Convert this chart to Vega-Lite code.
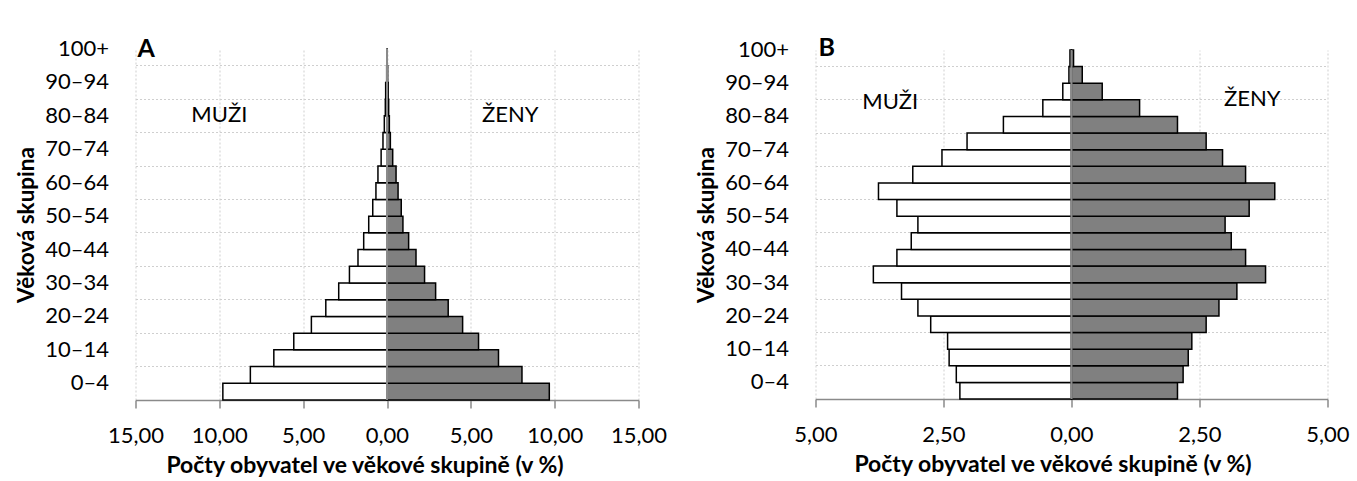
{
  "$schema": "https://vega.github.io/schema/vega-lite/v6.json",
  "padding": {"left": 15.5, "top": 36, "right": 2, "bottom": 2},
  "config": {
    "font": "Lato",
    "view": {"stroke": null},
    "axis": {"labelColor": "#000000", "titleColor": "#000000", "labelFont": "Lato", "titleFont": "Lato", "labelOverlap": false, "labelBound": false, "labelFlush": false}
  },
  "datasets": {
    "A": [
      {"age": "0–4", "sex": "muži", "value": -9.79}, {"age": "0–4", "sex": "ženy", "value": 9.68},
      {"age": "5–9", "sex": "muži", "value": -8.15}, {"age": "5–9", "sex": "ženy", "value": 8.05},
      {"age": "10–14", "sex": "muži", "value": -6.75}, {"age": "10–14", "sex": "ženy", "value": 6.65},
      {"age": "15–19", "sex": "muži", "value": -5.56}, {"age": "15–19", "sex": "ženy", "value": 5.46},
      {"age": "20–24", "sex": "muži", "value": -4.51}, {"age": "20–24", "sex": "ženy", "value": 4.51},
      {"age": "25–29", "sex": "muži", "value": -3.65}, {"age": "25–29", "sex": "ženy", "value": 3.65},
      {"age": "30–34", "sex": "muži", "value": -2.88}, {"age": "30–34", "sex": "ženy", "value": 2.9},
      {"age": "35–39", "sex": "muži", "value": -2.24}, {"age": "35–39", "sex": "ženy", "value": 2.24},
      {"age": "40–44", "sex": "muži", "value": -1.73}, {"age": "40–44", "sex": "ženy", "value": 1.73},
      {"age": "45–49", "sex": "muži", "value": -1.39}, {"age": "45–49", "sex": "ženy", "value": 1.29},
      {"age": "50–54", "sex": "muži", "value": -1.09}, {"age": "50–54", "sex": "ženy", "value": 0.95},
      {"age": "55–59", "sex": "muži", "value": -0.85}, {"age": "55–59", "sex": "ženy", "value": 0.85},
      {"age": "60–64", "sex": "muži", "value": -0.66}, {"age": "60–64", "sex": "ženy", "value": 0.66},
      {"age": "65–69", "sex": "muži", "value": -0.54}, {"age": "65–69", "sex": "ženy", "value": 0.54},
      {"age": "70–74", "sex": "muži", "value": -0.35}, {"age": "70–74", "sex": "ženy", "value": 0.34},
      {"age": "75–79", "sex": "muži", "value": -0.24}, {"age": "75–79", "sex": "ženy", "value": 0.2},
      {"age": "80–84", "sex": "muži", "value": -0.16}, {"age": "80–84", "sex": "ženy", "value": 0.14},
      {"age": "85–89", "sex": "muži", "value": -0.1}, {"age": "85–89", "sex": "ženy", "value": 0.1},
      {"age": "90–94", "sex": "muži", "value": -0.08}, {"age": "90–94", "sex": "ženy", "value": 0.07},
      {"age": "95–99", "sex": "muži", "value": -0.02}, {"age": "95–99", "sex": "ženy", "value": 0.04},
      {"age": "100+", "sex": "muži", "value": 0}, {"age": "100+", "sex": "ženy", "value": 0.01}
    ],
    "B": [
      {"age": "0–4", "sex": "muži", "value": -2.18}, {"age": "0–4", "sex": "ženy", "value": 2.07},
      {"age": "5–9", "sex": "muži", "value": -2.25}, {"age": "5–9", "sex": "ženy", "value": 2.18},
      {"age": "10–14", "sex": "muži", "value": -2.39}, {"age": "10–14", "sex": "ženy", "value": 2.28},
      {"age": "15–19", "sex": "muži", "value": -2.42}, {"age": "15–19", "sex": "ženy", "value": 2.35},
      {"age": "20–24", "sex": "muži", "value": -2.75}, {"age": "20–24", "sex": "ženy", "value": 2.63},
      {"age": "25–29", "sex": "muži", "value": -3.0}, {"age": "25–29", "sex": "ženy", "value": 2.88},
      {"age": "30–34", "sex": "muži", "value": -3.32}, {"age": "30–34", "sex": "ženy", "value": 3.23},
      {"age": "35–39", "sex": "muži", "value": -3.87}, {"age": "35–39", "sex": "ženy", "value": 3.79},
      {"age": "40–44", "sex": "muži", "value": -3.41}, {"age": "40–44", "sex": "ženy", "value": 3.4},
      {"age": "45–49", "sex": "muži", "value": -3.13}, {"age": "45–49", "sex": "ženy", "value": 3.12},
      {"age": "50–54", "sex": "muži", "value": -3.0}, {"age": "50–54", "sex": "ženy", "value": 3.0},
      {"age": "55–59", "sex": "muži", "value": -3.41}, {"age": "55–59", "sex": "ženy", "value": 3.47},
      {"age": "60–64", "sex": "muži", "value": -3.77}, {"age": "60–64", "sex": "ženy", "value": 3.97},
      {"age": "65–69", "sex": "muži", "value": -3.1}, {"age": "65–69", "sex": "ženy", "value": 3.4},
      {"age": "70–74", "sex": "muži", "value": -2.53}, {"age": "70–74", "sex": "ženy", "value": 2.95},
      {"age": "75–79", "sex": "muži", "value": -2.04}, {"age": "75–79", "sex": "ženy", "value": 2.63},
      {"age": "80–84", "sex": "muži", "value": -1.33}, {"age": "80–84", "sex": "ženy", "value": 2.07},
      {"age": "85–89", "sex": "muži", "value": -0.56}, {"age": "85–89", "sex": "ženy", "value": 1.33},
      {"age": "90–94", "sex": "muži", "value": -0.17}, {"age": "90–94", "sex": "ženy", "value": 0.6},
      {"age": "95–99", "sex": "muži", "value": -0.05}, {"age": "95–99", "sex": "ženy", "value": 0.21},
      {"age": "100+", "sex": "muži", "value": -0.03}, {"age": "100+", "sex": "ženy", "value": 0.04}
    ]
  },
  "hconcat": [
    {
      "width": 503,
      "height": 351,
      "data": {"name": "A"},
      "layer": [
        {
          "mark": {"type": "bar", "stroke": "#000000", "strokeWidth": 1.5},
          "encoding": {
            "y": {
              "field": "age", "type": "nominal",
              "scale": {"domain": ["100+", "95–99", "90–94", "85–89", "80–84", "75–79", "70–74", "65–69", "60–64", "55–59", "50–54", "45–49", "40–44", "35–39", "30–34", "25–29", "20–24", "15–19", "10–14", "5–9", "0–4"], "paddingInner": 0, "paddingOuter": 0},
              "axis": {
                "values": ["100+", "90–94", "80–84", "70–74", "60–64", "50–54", "40–44", "30–34", "20–24", "10–14", "0–4"],
                "bandPosition": 1, "labelOffset": -8.36,
                "grid": true, "gridDash": [2, 2], "gridColor": "#cfcfcf", "gridWidth": 1,
                "ticks": false, "domain": false, "labelPadding": 27, "labelFontSize": 22,
                "labelOverlap": false, "labelBound": false,
                "title": "Věková skupina", "titleFontSize": 22.5, "titleFontWeight": "bold", "titlePadding": 6
              }
            },
            "x": {
              "field": "value", "type": "quantitative",
              "scale": {"domain": [-15, 15], "nice": false, "zero": false},
              "axis": {
                "values": [-15, -10, -5, 0, 5, 10, 15],
                "labelExpr": "replace(format(abs(datum.value), '.2f'), '.', ',')",
                "grid": true, "gridDash": [2, 2], "gridColor": "#cfcfcf", "gridWidth": 1,
                "domainColor": "#8a8a8a", "domainWidth": 1.5, "tickColor": "#8a8a8a", "tickWidth": 1.5, "tickSize": 8,
                "labelPadding": 17, "labelFontSize": 22,
                "title": "Počty obyvatel ve věkové skupině (v %)", "titleFontSize": 23, "titleFontWeight": "bold",
                "titleX": 229, "titlePadding": 8
              }
            },
            "fill": {"field": "sex", "type": "nominal", "scale": {"domain": ["muži", "ženy"], "range": ["#ffffff", "#808080"]}, "legend": null}
          }
        },
        {
          "data": {"values": [{}]},
          "mark": {"type": "rule", "color": "#8a8a8a", "strokeWidth": 2},
          "encoding": {"x": {"datum": 0}}
        },
        {
          "data": {"values": [{}]},
          "mark": {"type": "text", "text": "A", "fontSize": 25, "fontWeight": "bold", "align": "left", "baseline": "alphabetic", "dx": 2, "color": "#000000"},
          "encoding": {"x": {"datum": -15}, "y": {"datum": "100+"}}
        },
        {
          "data": {"values": [{}]},
          "mark": {"type": "text", "text": "MUŽI", "fontSize": 22, "align": "center", "baseline": "alphabetic", "dy": -2, "color": "#000000"},
          "encoding": {"x": {"datum": -10}, "y": {"datum": "80–84"}}
        },
        {
          "data": {"values": [{}]},
          "mark": {"type": "text", "text": "ŽENY", "fontSize": 22, "align": "center", "baseline": "alphabetic", "dy": -2, "color": "#000000"},
          "encoding": {"x": {"datum": 7.35}, "y": {"datum": "80–84"}}
        }
      ]
    },
    {
      "width": 512,
      "height": 349,
      "data": {"name": "B"},
      "layer": [
        {
          "mark": {"type": "bar", "stroke": "#000000", "strokeWidth": 1.5},
          "encoding": {
            "y": {
              "field": "age", "type": "nominal",
              "scale": {"domain": ["100+", "95–99", "90–94", "85–89", "80–84", "75–79", "70–74", "65–69", "60–64", "55–59", "50–54", "45–49", "40–44", "35–39", "30–34", "25–29", "20–24", "15–19", "10–14", "5–9", "0–4"], "paddingInner": 0, "paddingOuter": 0},
              "axis": {
                "values": ["100+", "90–94", "80–84", "70–74", "60–64", "50–54", "40–44", "30–34", "20–24", "10–14", "0–4"],
                "bandPosition": 1, "labelOffset": -8.3,
                "grid": true, "gridDash": [2, 2], "gridColor": "#cfcfcf", "gridWidth": 1,
                "ticks": false, "domain": false, "labelPadding": 27, "labelFontSize": 22,
                "labelOverlap": false, "labelBound": false,
                "title": "Věková skupina", "titleFontSize": 22.5, "titleFontWeight": "bold", "titlePadding": 6
              }
            },
            "x": {
              "field": "value", "type": "quantitative",
              "scale": {"domain": [-5, 5], "nice": false, "zero": false},
              "axis": {
                "values": [-5, -2.5, 0, 2.5, 5],
                "labelExpr": "replace(format(abs(datum.value), '.2f'), '.', ',')",
                "grid": true, "gridDash": [2, 2], "gridColor": "#cfcfcf", "gridWidth": 1,
                "domainColor": "#8a8a8a", "domainWidth": 1.5, "tickColor": "#8a8a8a", "tickWidth": 1.5, "tickSize": 8,
                "labelPadding": 17, "labelFontSize": 22,
                "title": "Počty obyvatel ve věkové skupině (v %)", "titleFontSize": 23, "titleFontWeight": "bold",
                "titleX": 237, "titlePadding": 8
              }
            },
            "fill": {"field": "sex", "type": "nominal", "scale": {"domain": ["muži", "ženy"], "range": ["#ffffff", "#808080"]}, "legend": null}
          }
        },
        {
          "data": {"values": [{}]},
          "mark": {"type": "rule", "color": "#8a8a8a", "strokeWidth": 2},
          "encoding": {"x": {"datum": 0}}
        },
        {
          "data": {"values": [{}]},
          "mark": {"type": "text", "text": "B", "fontSize": 25, "fontWeight": "bold", "align": "left", "baseline": "alphabetic", "dx": 3, "dy": -2, "color": "#000000"},
          "encoding": {"x": {"datum": -5}, "y": {"datum": "100+"}}
        },
        {
          "data": {"values": [{}]},
          "mark": {"type": "text", "text": "MUŽI", "fontSize": 22, "align": "center", "baseline": "alphabetic", "dy": 1, "color": "#000000"},
          "encoding": {"x": {"datum": -3.54}, "y": {"datum": "85–89"}}
        },
        {
          "data": {"values": [{}]},
          "mark": {"type": "text", "text": "ŽENY", "fontSize": 22, "align": "center", "baseline": "alphabetic", "dy": -2, "color": "#000000"},
          "encoding": {"x": {"datum": 3.53}, "y": {"datum": "85–89"}}
        }
      ]
    }
  ],
  "spacing": 177,
  "bounds": "flush",
  "center": true
}
